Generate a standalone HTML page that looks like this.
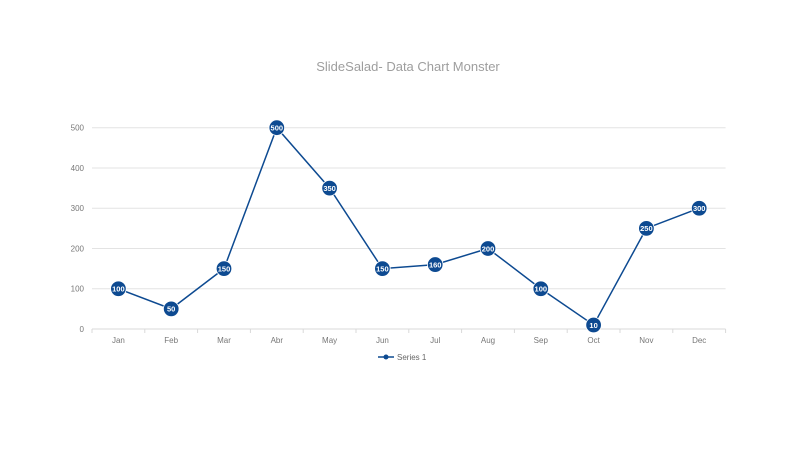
<!DOCTYPE html>
<html><head><meta charset="utf-8"><style>
body{margin:0;background:#fff;}
svg{display:block;font-family:"Liberation Sans",sans-serif;}
</style></head><body>
<svg id="chart" width="800" height="450">
<text x="408" y="71" text-anchor="middle" font-size="13" fill="#9e9e9e">SlideSalad- Data Chart Monster</text>
<g id="grid"></g><g id="axes"></g><g id="series"></g>
<g>
<line x1="378" y1="357" x2="394" y2="357" stroke="#0d4a91" stroke-width="1.5"/>
<circle cx="386" cy="357" r="2.5" fill="#0d4a91"/>
<text x="397" y="360" font-size="8" fill="#666">Series 1</text>
</g>
</svg>
<script>
const categories=["Jan","Feb","Mar","Abr","May","Jun","Jul","Aug","Sep","Oct","Nov","Dec"];
const values=[100,50,150,500,350,150,160,200,100,10,250,300];
const yTicks=[0,100,200,300,400,500];
const NS="http://www.w3.org/2000/svg";
const L=92,R=725.6,T=127.7,B=329,YMAX=500;
const step=(R-L)/categories.length;
const x=i=>L+step*(i+0.5);
const y=v=>B-(v/YMAX)*(B-T);
function mk(tag,attrs,parent,txt){const e=document.createElementNS(NS,tag);for(const k in attrs)e.setAttribute(k,attrs[k]);if(txt!=null)e.textContent=txt;parent.appendChild(e);return e;}
const grid=document.getElementById('grid'),axes=document.getElementById('axes'),ser=document.getElementById('series');
yTicks.forEach(t=>{
 if(t>0){const g=mk('line',{x1:L,x2:R,y1:y(t),y2:y(t),stroke:'#e3e3e3','stroke-width':1},grid);
 
 }
 const lb=mk('text',{x:84,y:y(t)+3,'text-anchor':'end','font-size':8,fill:'#777'},axes,t);
 
 
});
const ax=mk('line',{x1:L,x2:R,y1:B,y2:B,stroke:'#d9d9d9','stroke-width':1},axes);


for(let i=0;i<=categories.length;i++){mk('line',{x1:L+step*i,x2:L+step*i,y1:B,y2:B+4,stroke:'#d9d9d9'},axes);}
categories.forEach((c,i)=>{
 const t=mk('text',{x:x(i),y:B+14,'text-anchor':'middle','font-size':8,fill:'#777'},axes,c);
 
 
});
const pl=mk('polyline',{points:values.map((v,i)=>x(i)+','+y(v)).join(' '),fill:'none',stroke:'#0d4a91','stroke-width':1.5},ser);


values.forEach((v,i)=>{
 const c=mk('circle',{cx:x(i),cy:y(v),r:7.8,fill:'#0d4a91',stroke:'#ffffff','stroke-width':0.8},ser);
 
 
 const t=mk('text',{x:x(i),y:y(v)+2.8,'text-anchor':'middle','font-size':7.5,'font-weight':'bold',fill:'#fff'},ser,v);
 
 
});
</script>
</body></html>
